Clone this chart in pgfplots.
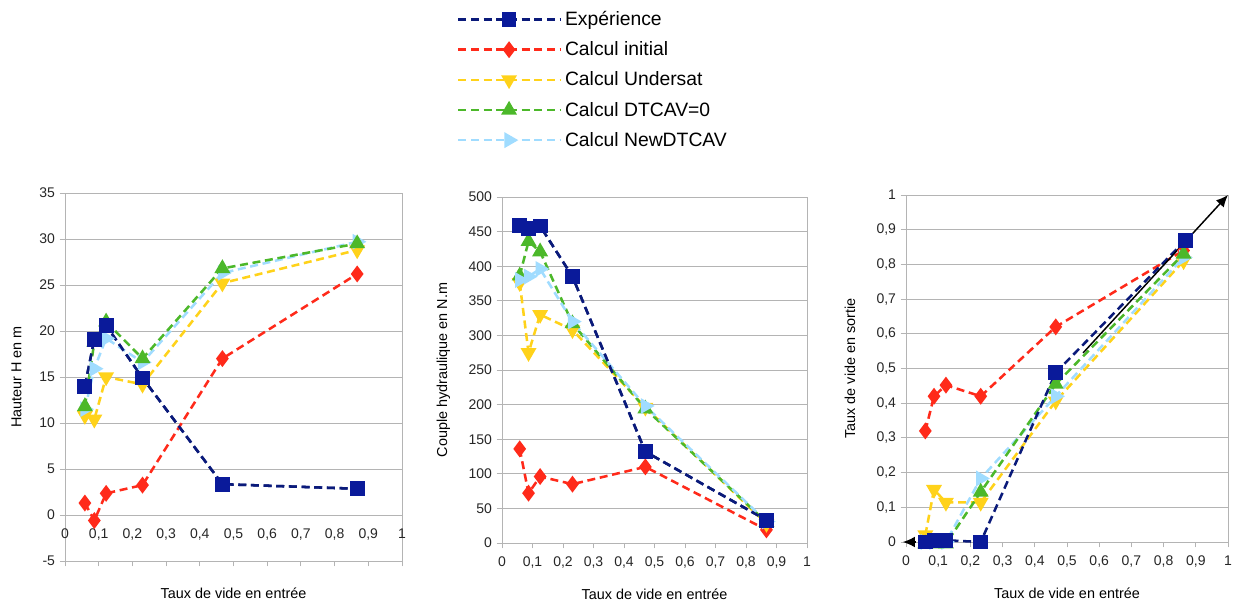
\documentclass[border=0pt]{standalone}
\usepackage{pgfplots}
\pgfplotsset{compat=1.18}
\usepackage{fontspec}
\setmainfont{Liberation Sans}
\usetikzlibrary{arrows.meta}
\definecolor{cExp}{HTML}{0A1A9A}
\definecolor{cExpL}{HTML}{0A1A7A}
\definecolor{cIni}{HTML}{FF2A1A}
\definecolor{cUnd}{HTML}{FFD21A}
\definecolor{cDtc}{HTML}{4CB82A}
\definecolor{cNew}{HTML}{A0DCFF}
\definecolor{cGrid}{HTML}{B4B4B4}
\newcommand{\labfont}{\fontsize{10.8}{12}\selectfont}
\pgfplotsset{
  myax/.style={
    scale only axis,
    anchor=south west,
    xmin=0, xmax=1,
    xtick={0,0.1,...,1.01},
    /pgf/number format/use comma,
    /pgf/number format/assume math mode=true,
    ticklabel style={font=\fontsize{10.5}{12}\selectfont, text=black!85},
    xlabel={Taux de vide en entrée},
    ymajorgrids,
    grid style={cGrid, line width=0.7pt},
    axis line style={cGrid, line width=0.7pt},
    tick style={cGrid, line width=0.7pt},
    tick align=outside,
    major tick length=4pt,
    xtick pos=bottom, ytick pos=left,
    clip=false,
  },
  sBase/.style={line width=1.9pt, dash pattern=on 6pt off 3.5pt},
  sExp/.style={sBase, cExpL, mark=square*, mark size=4.6pt, mark options={solid, fill=cExp, draw=cExp}},
  sIni/.style={sBase, cIni, mark=diamond*, mark size=4.8pt, mark options={solid, fill=cIni, draw=cIni}},
  sUnd/.style={sBase, cUnd, mark=triangle*, mark size=5pt, mark options={solid, fill=cUnd, draw=cUnd, rotate=180}},
  sDtc/.style={sBase, cDtc, mark=triangle*, mark size=5pt, mark options={solid, fill=cDtc, draw=cDtc}},
  sNew/.style={sBase, cNew, mark=triangle*, mark size=5pt, mark options={solid, fill=cNew, draw=cNew, rotate=-90}},
}
\begin{document}
\begin{tikzpicture}
\useasboundingbox (0,0) rectangle (925.5pt,453.75pt);
% ---------- Plot 1 ----------
\begin{axis}[myax,
  at={(48.75pt,33pt)}, width=252.75pt, height=276pt,
  ymin=-5, ymax=35, ytick={-5,0,...,35},
  axis x line*=middle, axis y line*=box,
  hide obscured x ticks=false,
  xticklabel style={yshift=-3pt},
  xlabel style={font=\labfont, at={(0.5,0)}, anchor=north, yshift=-17pt},
  ylabel={Hauteur H en m},
  ylabel style={font=\labfont, at={(0,0.5)}, anchor=south, rotate=0, yshift=29pt},
]
\addplot[sExp] coordinates {(0.059,14.0)(0.087,19.1)(0.122,20.6)(0.23,14.9)(0.467,3.35)(0.867,2.85)};
\addplot[sIni] coordinates {(0.059,1.3)(0.087,-0.6)(0.122,2.35)(0.23,3.25)(0.467,17.0)(0.867,26.2)};
\addplot[sUnd] coordinates {(0.059,10.8)(0.087,10.4)(0.122,15.0)(0.23,14.2)(0.467,25.2)(0.867,28.8)};
\addplot[sNew] coordinates {(0.059,11.5)(0.087,15.9)(0.122,19.2)(0.23,16.6)(0.467,26.3)(0.867,29.7)};
\addplot[sDtc] coordinates {(0.059,11.8)(0.087,18.8)(0.122,21.0)(0.23,17.0)(0.467,26.8)(0.867,29.5)};
\addplot[sExp] coordinates {(0.059,14.0)(0.087,19.1)(0.122,20.6)(0.23,14.9)(0.467,3.35)(0.867,2.85)};
\end{axis}
% ---------- Plot 2 ----------
\begin{axis}[myax,
  at={(376.5pt,46.5pt)}, width=228.75pt, height=259.5pt,
  ymin=0, ymax=500, ytick={0,50,...,500},
  axis lines=box,
  xticklabel style={yshift=-3pt},
  xlabel style={font=\labfont, yshift=-8pt},
  ylabel={Couple hydraulique en N.m},
  ylabel style={font=\labfont, yshift=7pt},
  legend style={at={(-0.148,1.545)}, anchor=north west, draw=none, fill=none,
     font=\fontsize{14.5}{17}\selectfont, row sep=6.6pt, inner sep=0pt,
     /tikz/every even column/.append style={column sep=2pt}},
  legend cell align=left,
  legend image code/.code={\draw[mark repeat=2,mark phase=2] plot coordinates {(0pt,0pt)(38pt,0pt)(77pt,0pt)};},
]
\addplot[sExp] coordinates {(0.058,459)(0.087,455)(0.125,458)(0.231,385)(0.47,132)(0.867,33)};
\addlegendentry{Expérience}
\addplot[sIni] coordinates {(0.058,136)(0.087,72)(0.125,96)(0.231,85)(0.47,110)(0.867,19)};
\addlegendentry{Calcul initial}
\addplot[sUnd] coordinates {(0.058,376)(0.087,275)(0.125,330)(0.231,308)(0.47,196)(0.867,28)};
\addlegendentry{Calcul Undersat}
\addplot[sDtc] coordinates {(0.058,386)(0.087,436)(0.125,421)(0.231,317)(0.47,194)(0.867,30)};
\addlegendentry{Calcul DTCAV=0}
\addplot[sNew] coordinates {(0.058,380)(0.087,385)(0.125,396)(0.231,320)(0.47,198)(0.867,31)};
\addlegendentry{Calcul NewDTCAV}
\addplot[sExp, forget plot] coordinates {(0.058,459)(0.087,455)(0.125,458)(0.231,385)(0.47,132)(0.867,33)};
\end{axis}
% ---------- Plot 3 ----------
\begin{axis}[myax,
  at={(679.5pt,47.25pt)}, width=241.5pt, height=260.25pt,
  ymin=0, ymax=1, ytick={0,0.1,...,1.01},
  axis lines=box,
  xticklabel style={yshift=-3pt},
  xlabel style={font=\labfont, yshift=-8pt},
  ylabel={Taux de vide en sortie},
  ylabel style={font=\labfont, yshift=9pt},
]
\addplot[sIni] coordinates {(0.06,0.32)(0.087,0.42)(0.124,0.452)(0.232,0.42)(0.465,0.62)(0.862,0.84)};
\addplot[sUnd] coordinates {(0.06,0.02)(0.087,0.151)(0.124,0.114)(0.232,0.114)(0.465,0.406)(0.862,0.81)};
\addplot[sNew] coordinates {(0.06,0.0)(0.087,0.0)(0.124,0.0)(0.232,0.183)(0.465,0.42)(0.862,0.82)};
\addplot[sDtc] coordinates {(0.06,-0.005)(0.087,-0.005)(0.124,-0.005)(0.232,0.144)(0.465,0.455)(0.862,0.83)};
\addplot[sExp] coordinates {(0.06,0.0)(0.087,0.005)(0.124,0.005)(0.232,0.0)(0.465,0.488)(0.867,0.869)};
\addplot[black, line width=1.1pt, -{Latex[length=9pt,width=8pt]}] coordinates {(0.55,0.545)(1.0,1.0)};
\addplot[black, line width=1.1pt, -{Latex[length=9pt,width=8pt]}] coordinates {(0.03,0.0)(-0.01,0.0)};
\end{axis}
\end{tikzpicture}
\end{document}
